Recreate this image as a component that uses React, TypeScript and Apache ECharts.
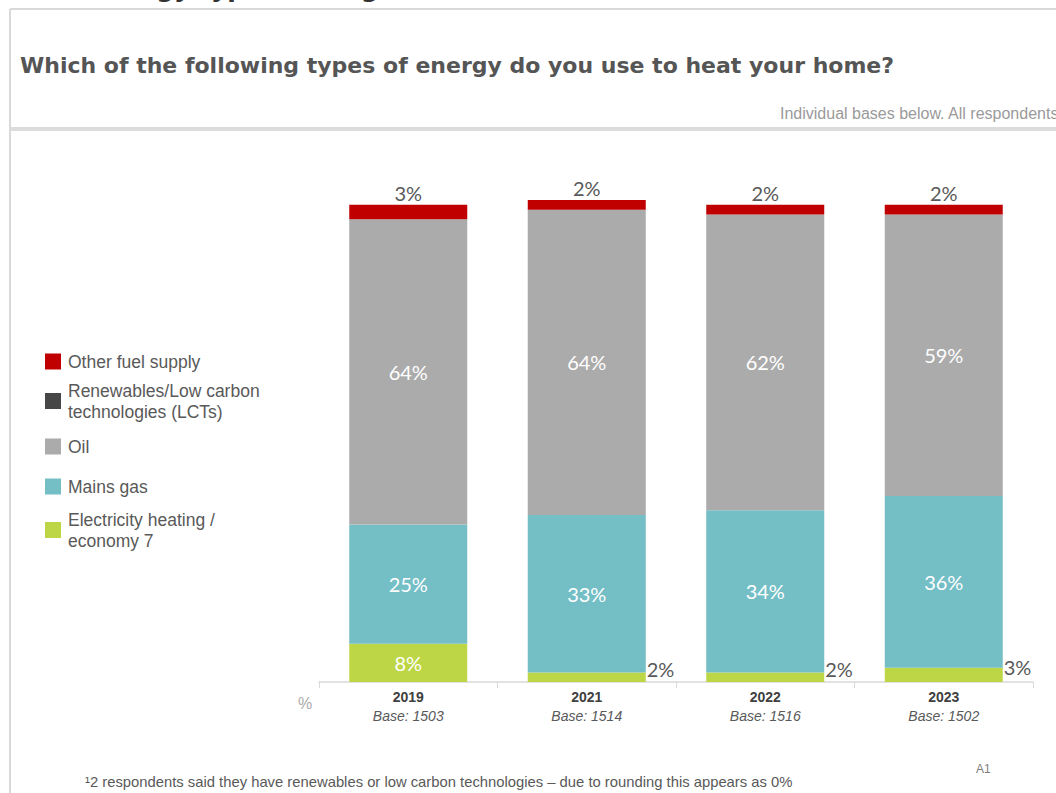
import React, { useEffect, useRef } from "react";
import * as echarts from "echarts";

const categories = ["2019", "2021", "2022", "2023"];
const bases = [1503, 1514, 1516, 1502];
const electricity = [8, 2, 2, 3];
const mainsGas = [25, 33, 34, 36];
const oil = [64, 64, 62, 59];
const renewables = [0, 0, 0, 0];
const otherFuel = [3, 2, 2, 2];

const seriesNames = [
  "Other fuel supply",
  "Renewables/Low carbon technologies (LCTs)",
  "Oil",
  "Mains gas",
  "Electricity heating / economy 7",
];
const legendLabels = [
  "Other fuel supply",
  "Renewables/Low carbon\ntechnologies (LCTs)",
  "Oil",
  "Mains gas",
  "Electricity heating /\neconomy 7",
];
const colors = ["#C00000", "#474747", "#ABABAB", "#74BEC6", "#BDD646"];
const legendTops = [351, 380, 436, 476, 509];

const LABEL_FONT = "Lato, 'Open Sans', sans-serif";

export default function App() {
  const ref = useRef<HTMLDivElement>(null);
  useEffect(() => {
    if (!ref.current) return;
    const chart = echarts.init(ref.current, undefined, { renderer: "svg" });
    const insideLabel = {
      show: true,
      position: "inside",
      color: "#ffffff",
      fontFamily: LABEL_FONT,
      fontSize: 20,
      formatter: "{c}%",
    };
    const legends = seriesNames.map((name, i) => ({
      left: 45,
      top: legendTops[i],
      padding: 0,
      orient: "vertical",
      icon: "rect",
      itemWidth: 16,
      itemHeight: 16,
      selectedMode: false,
      data: [name],
      formatter: () => legendLabels[i],
      textStyle: {
        color: "#595959",
        fontFamily: "'Liberation Sans', Arial, sans-serif",
        fontSize: 17.5,
        lineHeight: 21,
        padding: [0, 0, 0, 2],
      },
    }));
    const elecData = electricity.map((v, i) =>
      i === 0
        ? { value: v }
        : {
            value: v,
            label: {
              show: true,
              position: "right",
              distance: 1,
              offset: [0, -8],
              color: "#595959",
              fontFamily: LABEL_FONT,
              fontSize: 20,
              formatter: "{c}%",
            },
          }
    );
    const option = {
      animation: false,
      backgroundColor: "#ffffff",
      color: colors,
      legend: legends,
      grid: { left: 319, right: 23, top: 181, bottom: 111, containLabel: false },
      xAxis: {
        type: "category",
        data: categories,
        axisLine: { lineStyle: { color: "#D9D9D9", width: 1.5 } },
        axisTick: { show: true, alignWithLabel: false, length: 6, lineStyle: { color: "#D9D9D9" } },
        axisLabel: {
          margin: 5,
          formatter: (val: string, idx: number) => `{y|${val}}\n{b|Base: ${bases[idx]}}`,
          rich: {
            y: {
              fontFamily: "'Liberation Sans', Arial, sans-serif",
              fontWeight: "bold",
              fontSize: 14,
              color: "#404040",
              lineHeight: 19,
            },
            b: {
              fontFamily: "'Liberation Sans', Arial, sans-serif",
              fontStyle: "italic",
              fontSize: 14,
              color: "#595959",
              lineHeight: 19,
            },
          },
        },
      },
      yAxis: {
        type: "value",
        min: 0,
        max: 105,
        show: false,
        splitLine: { show: false },
      },
      series: [
        {
          name: seriesNames[4],
          type: "bar",
          stack: "t",
          barWidth: 118,
          data: elecData,
          itemStyle: { color: colors[4] },
          label: insideLabel,
        },
        {
          name: seriesNames[3],
          type: "bar",
          stack: "t",
          barWidth: 118,
          data: mainsGas,
          itemStyle: { color: colors[3] },
          label: insideLabel,
        },
        {
          name: seriesNames[2],
          type: "bar",
          stack: "t",
          barWidth: 118,
          data: oil,
          itemStyle: { color: colors[2] },
          label: insideLabel,
        },
        {
          name: seriesNames[1],
          type: "bar",
          stack: "t",
          barWidth: 118,
          data: renewables,
          itemStyle: { color: colors[1] },
          label: { show: false },
        },
        {
          name: seriesNames[0],
          type: "bar",
          stack: "t",
          barWidth: 118,
          data: otherFuel,
          itemStyle: { color: colors[0] },
          label: {
            show: true,
            position: "top",
            distance: 2,
            color: "#595959",
            fontFamily: LABEL_FONT,
            fontSize: 20,
            formatter: "{c}%",
          },
        },
      ],
      graphic: [
        { type: "line", shape: { x1: 10, y1: 9, x2: 1056, y2: 9 }, style: { stroke: "#D9D9D9", lineWidth: 2 } },
        { type: "line", shape: { x1: 10, y1: 9, x2: 10, y2: 793 }, style: { stroke: "#D9D9D9", lineWidth: 2 } },
        { type: "rect", shape: { x: 10, y: 127, width: 1046, height: 4 }, style: { fill: "#DCDCDC" } },
        {
          type: "text",
          left: 92,
          top: -24,
          style: {
            text: "Energy type heating",
            font: "bold 25px 'DejaVu Sans', sans-serif",
            fill: "#333333",
          },
        },
        {
          type: "text",
          left: 20,
          top: 54,
          style: {
            text: "Which of the following types of energy do you use to heat your home?",
            font: "bold 22px 'DejaVu Sans', sans-serif",
            fill: "#555555",
          },
        },
        {
          type: "text",
          left: 780,
          top: 105,
          style: {
            text: "Individual bases below. All respondents",
            font: "16px 'Liberation Sans', Arial, sans-serif",
            fill: "#9A9A9A",
          },
        },
        {
          type: "text",
          left: 298,
          top: 695,
          style: { text: "%", font: "16px 'Liberation Sans', Arial, sans-serif", fill: "#AAAAAA" },
        },
        {
          type: "text",
          left: 85,
          top: 774,
          style: {
            text: "¹2 respondents said they have renewables or low carbon technologies – due to rounding this appears as 0%",
            font: "14.8px 'Liberation Sans', Arial, sans-serif",
            fill: "#595959",
          },
        },
        {
          type: "text",
          left: 976,
          top: 763,
          style: { text: "A1", font: "12px 'Liberation Sans', Arial, sans-serif", fill: "#808080" },
        },
      ],
    };
    chart.setOption(option as any);
    return () => chart.dispose();
  }, []);
  return (
    <div
      ref={ref}
      style={{ position: "absolute", left: 0, top: 0, width: 1056, height: 793, background: "#fff" }}
    />
  );
}
